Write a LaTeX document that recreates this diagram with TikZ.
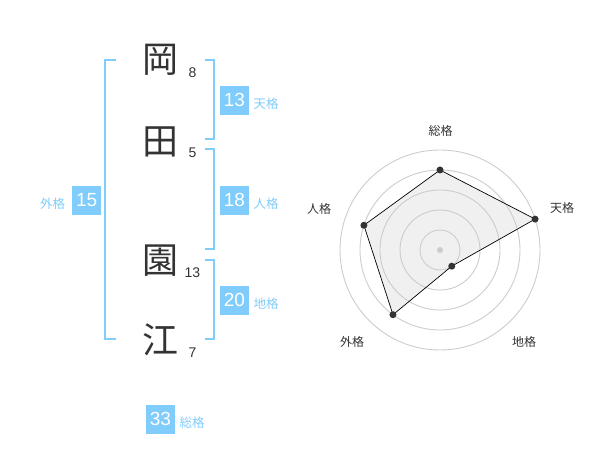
\documentclass[tikz,border=0pt]{standalone}
\usepackage{fontspec}
\usetikzlibrary{calc}
\setmainfont{Liberation Sans}
\newfontfamily\cjk{Noto Sans CJK JP}
\definecolor{kblue}{RGB}{128,204,252}
\definecolor{ktext}{RGB}{51,51,51}
\definecolor{kgrid}{RGB}{204,204,204}
\definecolor{kfill}{RGB}{240,240,240}
\tikzset{
  bracketline/.style={draw=kblue, line width=2pt},
  kanji/.style={text=ktext, font=\cjk\fontsize{36}{36}\selectfont, inner sep=0pt},
  strokes/.style={text=ktext, font=\fontsize{14}{14}\selectfont, inner sep=0pt},
  valbox/.style={fill=kblue, text=white, minimum width=29pt, minimum height=29pt, inner sep=0pt, font=\fontsize{19}{19}\selectfont},
  kaku/.style={text=kblue, font=\cjk\fontsize{12.5}{13}\selectfont, inner sep=0pt},
  radlabel/.style={text=ktext, font=\cjk\fontsize{12}{13}\selectfont, inner sep=0pt},
  ring/.style={draw=kgrid, line width=0.9pt},
  dot/.style={circle, fill=ktext, inner sep=0pt, minimum size=7pt},
}
\begin{document}
\begin{tikzpicture}[x=1pt,y=-1pt]
\useasboundingbox (0,0) rectangle (600,470);
% kanji
\node[kanji] (k1) at (160,60) {岡};
\node[kanji] (k2) at (160,141.5) {田};
\node[kanji] (k3) at (160,260.5) {園};
\node[kanji] (k4) at (160,340) {江};
% stroke counts
\node[strokes] (s1) at (192.5,72.5) {8};
\node[strokes] (s2) at (192.5,152.5) {5};
\node[strokes] (s3) at (192.5,272.5) {13};
\node[strokes] (s4) at (192.5,352.5) {7};
% brackets
\coordinate (lb1) at (116,60); \coordinate (lb2) at (105,60);
\coordinate (lb3) at (105,339); \coordinate (lb4) at (116,339);
\draw[bracketline] (lb1) -- (lb2) -- (lb3) -- (lb4);
\coordinate (t1) at (205,60); \coordinate (t2) at (214,60);
\coordinate (t3) at (214,139); \coordinate (t4) at (205,139);
\draw[bracketline] (t1) -- (t2) -- (t3) -- (t4);
\coordinate (j1) at (205,149); \coordinate (j2) at (214,149);
\coordinate (j3) at (214,249.5); \coordinate (j4) at (205,249.5);
\draw[bracketline] (j1) -- (j2) -- (j3) -- (j4);
\coordinate (c1) at (205,260); \coordinate (c2) at (214,260);
\coordinate (c3) at (214,339); \coordinate (c4) at (205,339);
\draw[bracketline] (c1) -- (c2) -- (c3) -- (c4);
% value boxes
\node[valbox] (ten) at (234.5,100.3) {13};
\node[kaku] (tenl) at (266,104) {天格};
\node[valbox] (jin) at (234.5,200.3) {18};
\node[kaku] (jinl) at (266,203.5) {人格};
\node[valbox] (chi) at (234.5,300.3) {20};
\node[kaku] (chil) at (266,304) {地格};
\node[valbox] (gai) at (86.7,200.3) {15};
\node[kaku] (gail) at (52.5,203.5) {外格};
\node[valbox] (sou) at (160.5,419.2) {33};
\node[kaku] (soul) at (192,423) {総格};
% radar
\coordinate (O) at (440,250);
\coordinate (pS) at ($(O)+(0,-80)$);
\coordinate (pT) at ($(O)+({100*cos(18)},{-100*sin(18)})$);
\coordinate (pC) at ($(O)+({20*cos(54)},{20*sin(54)})$);
\coordinate (pG) at ($(O)+({-80*cos(54)},{80*sin(54)})$);
\coordinate (pJ) at ($(O)+({-80*cos(18)},{-80*sin(18)})$);
\fill[kfill] (pS) -- (pT) -- (pC) -- (pG) -- (pJ) -- cycle;
\foreach \r in {20pt,40pt,60pt,80pt,100pt} \draw[ring] (O) circle[radius=\r];
\draw[draw=black, line width=0.7pt] (pS) -- (pT) -- (pC) -- (pG) -- (pJ) -- cycle;
\node[circle, fill=kgrid, inner sep=0pt, minimum size=6pt] (ctr) at (O) {};
\foreach \p in {pS,pT,pC,pG,pJ} \node[dot] at (\p) {};
\node[radlabel] (rS) at (440.5,130.5) {総格};
\node[radlabel] (rT) at (562,208) {天格};
\node[radlabel] (rJ) at (319,209) {人格};
\node[radlabel] (rG) at (352,342) {外格};
\node[radlabel] (rC) at (524,342) {地格};
\end{tikzpicture}
\end{document}
